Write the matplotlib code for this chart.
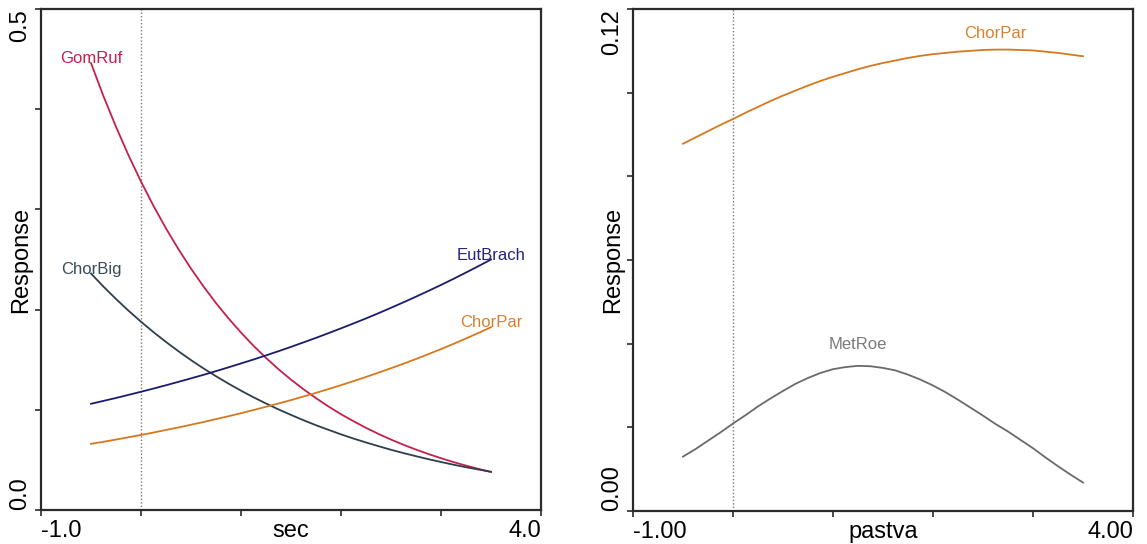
import matplotlib
matplotlib.use("Agg")
import matplotlib.pyplot as plt

plt.rcParams['font.family'] = ['Liberation Sans', 'DejaVu Sans']

# ---------------- data ----------------
x_sec = [-0.5, -0.375, -0.25, -0.125, 0.0, 0.125, 0.25, 0.375, 0.5, 0.625,
         0.75, 0.875, 1.0, 1.125, 1.25, 1.375, 1.5, 1.625, 1.75, 1.875,
         2.0, 2.125, 2.25, 2.375, 2.5, 2.625, 2.75, 2.875, 3.0, 3.125,
         3.25, 3.375, 3.5]
gomruf = [0.4460, 0.4129, 0.3824, 0.3540, 0.3278, 0.3035, 0.2810, 0.2602, 0.2409,
          0.2231, 0.2065, 0.1912, 0.1771, 0.1639, 0.1518, 0.1405, 0.1301, 0.1205,
          0.1116, 0.1033, 0.0956, 0.0886, 0.0820, 0.0759, 0.0703, 0.0651, 0.0603,
          0.0558, 0.0517, 0.0478, 0.0443, 0.0410, 0.0380]
chorbig = [0.2360, 0.2229, 0.2106, 0.1989, 0.1879, 0.1775, 0.1677, 0.1584, 0.1496,
           0.1413, 0.1335, 0.1261, 0.1191, 0.1125, 0.1063, 0.1004, 0.0949, 0.0896,
           0.0846, 0.0800, 0.0755, 0.0713, 0.0674, 0.0637, 0.0601, 0.0568, 0.0537,
           0.0507, 0.0479, 0.0452, 0.0427, 0.0404, 0.0381]
eutbrach = [0.1060, 0.1089, 0.1118, 0.1149, 0.1180, 0.1212, 0.1245, 0.1279, 0.1314,
            0.1349, 0.1386, 0.1424, 0.1463, 0.1502, 0.1543, 0.1585, 0.1628, 0.1673,
            0.1718, 0.1765, 0.1813, 0.1862, 0.1912, 0.1964, 0.2018, 0.2073, 0.2129,
            0.2187, 0.2246, 0.2307, 0.2370, 0.2434, 0.2500]
chorpar_sec = [0.0660, 0.0681, 0.0703, 0.0726, 0.0749, 0.0773, 0.0799, 0.0824, 0.0851,
               0.0878, 0.0907, 0.0936, 0.0966, 0.0998, 0.1030, 0.1063, 0.1097, 0.1133,
               0.1169, 0.1207, 0.1246, 0.1286, 0.1328, 0.1371, 0.1415, 0.1460, 0.1507,
               0.1556, 0.1606, 0.1658, 0.1712, 0.1767, 0.1824]

x_pastva = [-0.5, -0.375, -0.25, -0.125, 0.0, 0.125, 0.25, 0.375, 0.5, 0.625,
            0.75, 0.875, 1.0, 1.125, 1.25, 1.375, 1.5, 1.625, 1.75, 1.875,
            2.0, 2.125, 2.25, 2.375, 2.5, 2.625, 2.75, 2.875, 3.0, 3.125,
            3.25, 3.375, 3.5]
chorpar_pastva = [0.0878, 0.0893, 0.0908, 0.0923, 0.0937, 0.0952, 0.0966, 0.0980,
                  0.0993, 0.1005, 0.1017, 0.1028, 0.1038, 0.1047, 0.1056, 0.1064,
                  0.1071, 0.1077, 0.1083, 0.1088, 0.1092, 0.1095, 0.1098, 0.1100,
                  0.1102, 0.1103, 0.1103, 0.1102, 0.1101, 0.1098, 0.1095, 0.1091,
                  0.1087]
metroe = [0.0130, 0.0148, 0.0168, 0.0188, 0.0209, 0.0229, 0.0250, 0.0269, 0.0287,
          0.0304, 0.0318, 0.0330, 0.0339, 0.0344, 0.0347, 0.0346, 0.0342, 0.0336,
          0.0326, 0.0314, 0.0300, 0.0284, 0.0266, 0.0247, 0.0228, 0.0208, 0.0190,
          0.0170, 0.0150, 0.0128, 0.0107, 0.0087, 0.0068]

left_series = ["GomRuf", "ChorBig", "EutBrach", "ChorPar"]
right_series = ["ChorPar", "MetRoe"]

left_xticks = [-1, 0, 1, 2, 3, 4]
left_xticklabels = ["-1.0", "", "", "", "", "4.0"]
left_yticks = [0.0, 0.1, 0.2, 0.3, 0.4, 0.5]
left_yticklabels = ["0.0", "", "", "", "", "0.5"]
right_xticks = [-1, 0, 1, 2, 3, 4]
right_xticklabels = ["-1.00", "", "", "", "", "4.00"]
right_yticks = [0.0, 0.02, 0.04, 0.06, 0.08, 0.10, 0.12]
right_yticklabels = ["0.00", "", "", "", "", "", "0.12"]

colors = {"GomRuf": "#C4204C", "ChorBig": "#2E3E4C", "EutBrach": "#1C1C6C",
          "ChorPar": "#D6781E", "MetRoe": "#6A6A6A"}
text_colors = {"GomRuf": "#C4204C", "ChorBig": "#3A4A58", "EutBrach": "#24247A",
               "ChorPar": "#D98030", "MetRoe": "#7A7A7A"}

FS = 17
fig = plt.figure(figsize=(11.47, 5.44), dpi=100)
fig.patch.set_facecolor("white")

ax1 = fig.add_axes([41/1147, 34/544, 500/1147, 501/544])
ax2 = fig.add_axes([633/1147, 33/544, 500/1147, 502/544])


def style(ax, xt, xtl, yt, ytl, xlabel, ylim):
    ax.set_xlim(-1, 4)
    ax.set_ylim(*ylim)
    for s in ax.spines.values():
        s.set_color("#2a2a2a")
        s.set_linewidth(1.6)
    ax.set_xticks(xt)
    ax.set_xticklabels(xtl, fontsize=FS)
    ax.set_yticks(yt)
    ax.set_yticklabels(ytl, fontsize=FS, rotation=90)
    ax.tick_params(direction="out", length=4, width=1.2, color="#2a2a2a", pad=3)
    xl = ax.get_xticklabels()
    xl[0].set_ha("left")
    xl[-1].set_ha("right")
    yl = ax.get_yticklabels()
    for t in yl:
        t.set_ha("right")
    yl[0].set_va("bottom")
    yl[-1].set_va("top")
    ax.set_xlabel(xlabel, fontsize=FS)
    ax.xaxis.set_label_coords(0.5, -0.0194)
    ax.xaxis.label.set_va("top")
    ax.set_ylabel("Response", fontsize=FS)
    ax.yaxis.set_label_coords(-0.0185, 0.5)
    ax.axvline(0, color="#7a7a7a", linestyle=(0, (1, 1.5)), linewidth=1.0, zorder=1)


def label_at_max(ax, xs, ys, name, dy):
    i = max(range(len(ys)), key=lambda k: ys[k])
    ax.annotate(name, (xs[i], ys[i]), xytext=(0, dy), textcoords="offset points",
                ha="center", va="baseline", fontsize=12, color=text_colors[name])


style(ax1, left_xticks, left_xticklabels, left_yticks, left_yticklabels, "sec", (0, 0.5))
left_data = {"GomRuf": gomruf, "ChorBig": chorbig, "EutBrach": eutbrach, "ChorPar": chorpar_sec}
for name in left_series:
    ax1.plot(x_sec, left_data[name], color=colors[name], linewidth=1.3, zorder=3)
    label_at_max(ax1, x_sec, left_data[name], name, 0)

style(ax2, right_xticks, right_xticklabels, right_yticks, right_yticklabels, "pastva", (0, 0.12))
right_data = {"ChorPar": chorpar_pastva, "MetRoe": metroe}
right_dy = {"ChorPar": 8, "MetRoe": 12}
for name in right_series:
    ax2.plot(x_pastva, right_data[name], color=colors[name], linewidth=1.3, zorder=3)
    label_at_max(ax2, x_pastva, right_data[name], name, right_dy[name])

fig.savefig("out.png", dpi=100, facecolor="white")
